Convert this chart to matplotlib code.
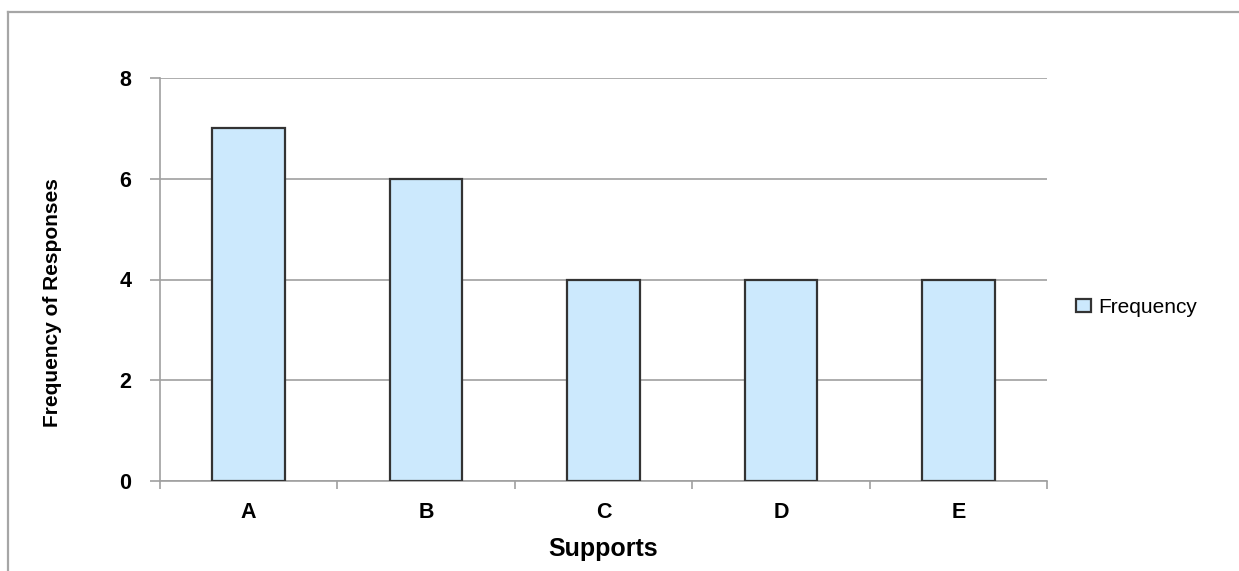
import matplotlib
matplotlib.use("Agg")
import matplotlib.pyplot as plt
from matplotlib.lines import Line2D

categories = ["A", "B", "C", "D", "E"]
frequency = [7, 6, 4, 4, 4]
y_ticks = [0, 2, 4, 6, 8]
series_name = "Frequency"

plt.rcParams["font.family"] = ["Liberation Sans", "DejaVu Sans"]

W, H = 1239, 571
fig = plt.figure(figsize=(W / 100, H / 100), dpi=100)

# outer chart-area frame (only top and left edges fall inside the image)
frame_col = "#a6a6a6"
fig.add_artist(Line2D([8 / W, 8 / W], [0, 1 - 12 / H], transform=fig.transFigure,
                      color=frame_col, lw=1.6))
fig.add_artist(Line2D([8 / W, 1], [1 - 12 / H, 1 - 12 / H], transform=fig.transFigure,
                      color=frame_col, lw=1.6))

left, right, top, bottom = 160, 1047, 78, 481
ax = fig.add_axes([left / W, 1 - bottom / H, (right - left) / W, (bottom - top) / H])

x = list(range(len(categories)))
ax.bar(x, frequency, width=0.41, color="#cce9fd", edgecolor="#333333",
       linewidth=1.6, zorder=3, label=series_name)

ax.set_xlim(-0.5, len(categories) - 0.5)
ax.set_ylim(0, 8)
ax.set_yticks(y_ticks)
ax.set_yticklabels([str(v) for v in y_ticks], fontsize=15.5, fontweight="bold")
ax.set_xticks(x)
ax.set_xticklabels(categories, fontsize=15.5, fontweight="bold")
ax.set_xticks([i - 0.5 for i in range(len(categories) + 1)], minor=True)

grid_col = "#a0a0a0"
ax.grid(axis="y", color=grid_col, lw=1.2, zorder=0)
for s in ["top", "right"]:
    ax.spines[s].set_visible(False)
for s in ["left", "bottom"]:
    ax.spines[s].set_color(grid_col)
    ax.spines[s].set_linewidth(1.2)

ax.tick_params(axis="y", which="major", length=7.2, width=1.2, color=grid_col,
               direction="out", pad=13.5)
ax.tick_params(axis="x", which="major", length=0, pad=15)
ax.tick_params(axis="x", which="minor", length=5.8, width=1.2, color=grid_col,
               direction="out")

ax.set_xlabel("Supports", fontsize=18, fontweight="bold", labelpad=10)
ax.set_ylabel("Frequency of Responses", fontsize=15, fontweight="bold")
ax.yaxis.set_label_coords(-0.110, 0.444)

ax.legend(loc="center left", bbox_to_anchor=(1.012, 0.43), frameon=False,
          fontsize=15, handlelength=0.7, handleheight=0.6, handletextpad=0.35)

fig.savefig("out.png", dpi=100)
